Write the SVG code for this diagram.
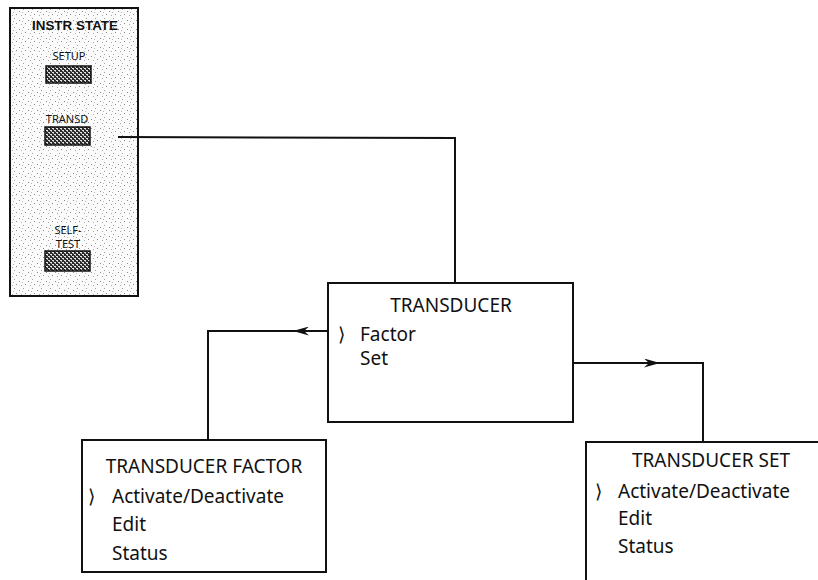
<svg xmlns="http://www.w3.org/2000/svg" width="818" height="580" viewBox="0 0 818 580">
  <style>
    .box { fill: #fff; stroke: #111; stroke-width: 2; }
    .wire { fill: none; stroke: #111; stroke-width: 2; }
    .menu { font-family: "Noto Sans", "Open Sans", sans-serif; font-size: 19px; fill: #111; }
    .title { text-anchor: middle; }
    .key { font-family: "Noto Sans", "Open Sans", sans-serif; font-size: 11px; fill: #111; text-anchor: middle; }
    .btn { fill: url(#hatch); stroke: #111; stroke-width: 1.5; }
  </style>
  <defs>
    <!-- stippled panel background -->
    <pattern id="stipple" width="9" height="9" patternUnits="userSpaceOnUse">
      <rect width="9" height="9" fill="#fbfbfb"/>
      <rect x="1" y="2" width="1" height="1" fill="#8a8a8a"/>
      <rect x="5" y="0" width="1" height="1" fill="#a0a0a0"/>
      <rect x="7" y="5" width="1" height="1" fill="#8a8a8a"/>
      <rect x="3" y="6" width="1" height="1" fill="#a8a8a8"/>
      <rect x="4" y="3" width="1" height="1" fill="#b5b5b5"/>
    </pattern>
    <!-- crosshatched key face -->
    <pattern id="hatch" width="4" height="4" patternUnits="userSpaceOnUse">
      <rect width="4" height="4" fill="#2a2a2a"/>
      <rect x="0" y="0" width="2" height="1" fill="#e8e8e8"/>
      <rect x="2" y="2" width="2" height="1" fill="#e8e8e8"/>
      <rect x="1" y="1" width="1" height="1" fill="#b0b0b0"/>
      <rect x="3" y="3" width="1" height="1" fill="#b0b0b0"/>
    </pattern>
    <marker id="dart" viewBox="0 0 16 9" refX="16" refY="4.5" markerWidth="16" markerHeight="9" markerUnits="userSpaceOnUse" orient="auto">
      <path d="M0,0 L16,4.5 L0,9 L5,4.5 z" fill="#111"/>
    </marker>
  </defs>

  <rect width="818" height="580" fill="#fff"/>

  <!-- front-panel key group -->
  <g id="instr-state">
    <rect x="10" y="8" width="128" height="288" fill="url(#stipple)" stroke="#111" stroke-width="2"/>
    <text x="75" y="30" font-family="'Liberation Sans', Arial, sans-serif" font-size="12" font-weight="bold" text-anchor="middle" fill="#111" textLength="86" lengthAdjust="spacingAndGlyphs">INSTR STATE</text>
    <text class="key" x="69" y="60">SETUP</text>
    <rect class="btn" x="46" y="66" width="45" height="17"/>
    <text class="key" x="67" y="123">TRANSD</text>
    <rect class="btn" x="45" y="127" width="45" height="18"/>
    <text class="key" x="68" y="234" font-size="9.5">SELF-</text>
    <text class="key" x="68" y="248" font-size="9.5">TEST</text>
    <rect class="btn" x="45" y="251" width="45" height="20"/>
  </g>

  <!-- connectors -->
  <g id="connectors">
    <path class="wire" d="M118 137 L455 138 V283"/>
    <path class="wire" d="M328 331 H293" marker-end="url(#dart)"/>
    <path class="wire" d="M293 331 H208 V440"/>
    <path class="wire" d="M573 363 H660" marker-end="url(#dart)"/>
    <path class="wire" d="M660 363 H703 V442"/>
  </g>

  <g id="transducer">
    <rect class="box" x="328" y="283" width="245" height="139"/>
    <text class="menu title" x="451" y="312">TRANSDUCER</text>
    <text class="menu" x="338" y="341">⟩</text>
    <text class="menu" x="360" y="341">Factor</text>
    <text class="menu" x="360" y="365">Set</text>
  </g>

  <g id="transducer-factor">
    <rect class="box" x="82" y="440" width="244" height="132"/>
    <text class="menu title" x="204" y="473">TRANSDUCER FACTOR</text>
    <text class="menu" x="88" y="503">⟩</text>
    <text class="menu" x="112" y="503">Activate/Deactivate</text>
    <text class="menu" x="112" y="531">Edit</text>
    <text class="menu" x="112" y="560">Status</text>
  </g>

  <g id="transducer-set">
    <rect class="box" x="586" y="442" width="260" height="160"/>
    <text class="menu title" x="711" y="467">TRANSDUCER SET</text>
    <text class="menu" x="595" y="498">⟩</text>
    <text class="menu" x="618" y="498">Activate/Deactivate</text>
    <text class="menu" x="618" y="525">Edit</text>
    <text class="menu" x="618" y="553">Status</text>
  </g>
</svg>
